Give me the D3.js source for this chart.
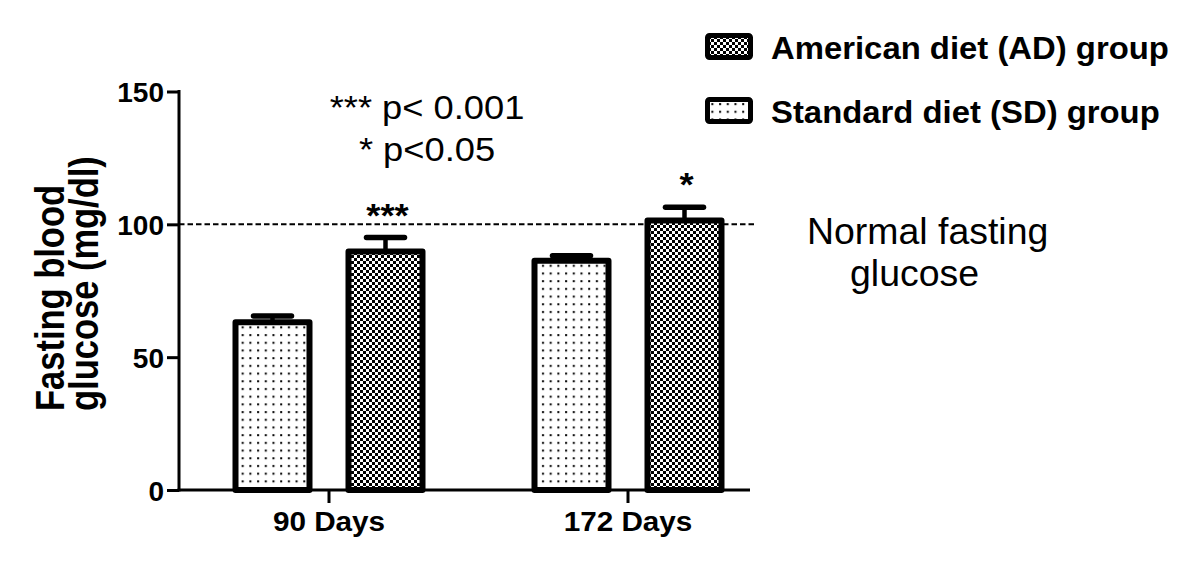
<!DOCTYPE html>
<html>
<head>
<meta charset="utf-8">
<script src="https://cdn.jsdelivr.net/npm/d3@7/dist/d3.min.js"></script>
<style>
  html, body { margin: 0; padding: 0; background: #fff; }
  svg { display: block; font-family: "Liberation Sans", Arial, sans-serif; }
</style>
</head>
<body>
<svg id="chart" width="1200" height="566"></svg>
<script>
// ---- data ----
const groups = ["90 Days", "172 Days"];
const seriesNames = ["Standard diet (SD) group", "American diet (AD) group"];
const sdMeans = [63.1, 86.3];
const sdErrors = [2.4, 1.9];
const adMeans = [89.8, 101.4];
const adErrors = [5.2, 5.0];
const yTicks = [0, 50, 100, 150];
const normalGlucose = 100;
const sigMarks = ["***", "*"];        // on AD bars
const legendOrder = ["American diet (AD) group", "Standard diet (SD) group"];
const yLabelLines = ["Fasting blood", "glucose (mg/dl)"];
const noteLines = ["*** p< 0.001", "* p<0.05"];
const normalLines = ["Normal fasting", "glucose"];

const FONT = '"Liberation Sans", Arial, sans-serif';
const svg = d3.select("#chart");

// ---- patterns ----
const defs = svg.append("defs");
const chk = defs.append("pattern").attr("id", "checker")
  .attr("patternUnits", "userSpaceOnUse").attr("width", 6).attr("height", 6);
chk.append("rect").attr("width", 6).attr("height", 6).attr("fill", "#fff");
chk.append("rect").attr("x", 0).attr("y", 0).attr("width", 3).attr("height", 3).attr("fill", "#000");
chk.append("rect").attr("x", 3).attr("y", 3).attr("width", 3).attr("height", 3).attr("fill", "#000");

const dots = defs.append("pattern").attr("id", "dots")
  .attr("patternUnits", "userSpaceOnUse").attr("width", 7.7).attr("height", 7.7);
dots.append("rect").attr("width", 7.7).attr("height", 7.7).attr("fill", "#fff");
dots.append("rect").attr("x", 3).attr("y", 3).attr("width", 2).attr("height", 2).attr("fill", "#000");

const fills = { "Standard diet (SD) group": "url(#dots)", "American diet (AD) group": "url(#checker)" };

// ---- scales ----
const axisLeftX = 179, axisRightX = 750;
const x0 = d3.scaleBand().domain(groups).range([179.5, 777.5]).paddingInner(0).paddingOuter(0);
const x1 = d3.scaleBand().domain(seriesNames).range([53, 246]).paddingInner(0.292).paddingOuter(0);
const y = d3.scaleLinear().domain([0, 150]).range([490, 91.5]);

const rows = [];
groups.forEach((g, i) => {
  rows.push({ group: g, series: seriesNames[0], mean: sdMeans[i], err: sdErrors[i], mark: null });
  rows.push({ group: g, series: seriesNames[1], mean: adMeans[i], err: adErrors[i], mark: sigMarks[i] });
});

// ---- dashed normal line ----
svg.append("line")
  .attr("x1", axisLeftX).attr("x2", 755)
  .attr("y1", y(normalGlucose)).attr("y2", y(normalGlucose))
  .attr("stroke", "#000").attr("stroke-width", 2).attr("stroke-dasharray", "5.5,3");

// ---- error bars (drawn before bars) ----
const SW = 6;
const gBars = svg.append("g");
rows.forEach(d => {
  const cx = x0(d.group) + x1(d.series) + x1.bandwidth() / 2;
  gBars.append("line")
    .attr("x1", cx).attr("x2", cx)
    .attr("y1", y(d.mean)).attr("y2", y(d.mean + d.err))
    .attr("stroke", "#000").attr("stroke-width", 4.5);
  gBars.append("line")
    .attr("x1", cx - 19).attr("x2", cx + 19)
    .attr("y1", y(d.mean + d.err)).attr("y2", y(d.mean + d.err))
    .attr("stroke", "#000").attr("stroke-width", 5.5).attr("stroke-linecap", "round");
});
rows.forEach(d => {
  const bx = x0(d.group) + x1(d.series);
  gBars.append("rect")
    .attr("x", bx + SW / 2).attr("width", x1.bandwidth() - SW)
    .attr("y", y(d.mean)).attr("height", y(0) - y(d.mean))
    .attr("fill", fills[d.series])
    .attr("stroke", "#000").attr("stroke-width", SW).attr("stroke-linejoin", "round");
});

// ---- significance stars ----
rows.filter(d => d.mark).forEach(d => {
  const cx = x0(d.group) + x1(d.series) + x1.bandwidth() / 2;
  svg.append("text")
    .attr("transform", `translate(${cx + 2},${y(d.mean + d.err) - 11}) scale(1.1,1)`)
    .attr("text-anchor", "middle")
    .attr("font-size", 33).attr("font-weight", "bold")
    .text(d.mark);
});

// ---- axes ----
const yAxis = d3.axisLeft(y).tickValues(yTicks).tickSize(12).tickPadding(3).tickSizeOuter(0);
const gy = svg.append("g").attr("transform", `translate(${axisLeftX},0)`).call(yAxis);
gy.select(".domain").remove();
gy.selectAll(".tick line").attr("stroke", "#000").attr("stroke-width", 3);
gy.selectAll(".tick text")
  .attr("x", null).attr("dy", null)
  .attr("transform", "translate(-15,10) scale(1.0,1)")
  .attr("font-family", FONT).attr("font-size", 28).attr("font-weight", "bold").attr("fill", "#000");
svg.append("line").attr("x1", axisLeftX).attr("x2", axisLeftX)
  .attr("y1", y(150) - 1.5).attr("y2", y(0) + 1.5)
  .attr("stroke", "#000").attr("stroke-width", 3);

const xAxis = d3.axisBottom(x0).tickSize(13).tickSizeOuter(0);
const gx = svg.append("g").attr("transform", `translate(0,${y(0)})`).call(xAxis);
gx.select(".domain").remove();
gx.selectAll(".tick line").attr("stroke", "#000").attr("stroke-width", 3);
gx.selectAll(".tick text")
  .attr("y", null).attr("dy", null)
  .attr("transform", "translate(0,41) scale(1.08,1)")
  .attr("font-family", FONT).attr("font-size", 27.5).attr("font-weight", "bold").attr("fill", "#000");
svg.append("line").attr("x1", axisLeftX - 1.5).attr("x2", axisRightX)
  .attr("y1", y(0)).attr("y2", y(0))
  .attr("stroke", "#000").attr("stroke-width", 3);

// ---- y label ----
yLabelLines.forEach((t, i) => {
  svg.append("text")
    .attr("transform", `translate(${[64, 98][i]},411) scale(1.2,1) rotate(-90)`)
    .attr("text-anchor", "start")
    .attr("font-size", 34.5).attr("font-weight", "bold")
    .text(t);
});

// ---- legend ----
legendOrder.forEach((name, i) => {
  const ly = 35.5 + i * 64;
  svg.append("rect")
    .attr("x", 707.5).attr("y", ly).attr("width", 43).attr("height", 22)
    .attr("rx", 2)
    .attr("fill", fills[name]).attr("stroke", "#000").attr("stroke-width", 5);
  svg.append("text")
    .attr("transform", `translate(771,${ly + 23}) scale(1.06,1)`)
    .attr("font-size", 31).attr("font-weight", "bold")
    .text(name);
});

// ---- notes ----
noteLines.forEach((t, i) => {
  svg.append("text")
    .attr("transform", `translate(427,${[119, 161][i]}) scale(1.1,1)`)
    .attr("text-anchor", "middle")
    .attr("font-size", 33)
    .text(t);
});
normalLines.forEach((t, i) => {
  svg.append("text")
    .attr("transform", `translate(${[807, 850][i]},${[244, 286][i]}) scale(1.04,1)`)
    .attr("font-size", 36)
    .text(t);
});
</script>
</body>
</html>
